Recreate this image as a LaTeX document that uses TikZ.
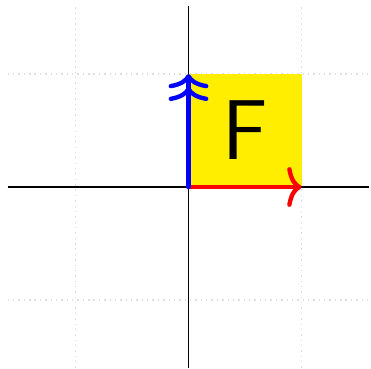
\documentclass[tikz,border=0pt]{standalone}
\usetikzlibrary{arrows.meta}
\definecolor{fyellow}{RGB}{255,238,0}
\definecolor{gridgray}{RGB}{222,222,222}
\begin{document}
\begin{tikzpicture}[x=1cm,y=1cm,
  gridline/.style={gridgray, densely dotted, line width=0.35pt},
  axisline/.style={black, line width=0.3pt},
  vecarrow/.style={line width=1.1pt, line cap=round},
  letter/.style={font=\sffamily\fontsize{21.4}{24}\selectfont, inner sep=0pt}]
\useasboundingbox (-1.668,-1.602) rectangle (1.615,1.655);
\draw[gridline] (-1.6,-1.6) grid (1.6,1.6);
\fill[fyellow] (0,0) rectangle (1,1);
\coordinate (O) at (0,0);
\coordinate (X) at (1,0);
\coordinate (Y) at (0,1);
\coordinate (xl) at (-1.6,0);
\coordinate (xr) at (1.6,0);
\coordinate (yb) at (0,-1.6);
\coordinate (yt) at (0,1.6);
\draw[axisline] (xl) -- (xr);
\draw[axisline] (yb) -- (yt);
\node[letter] (F) at (0.5,0.5) {F};
\draw[vecarrow, red, -{To[length=3.6pt,width=10pt]}] (O) -- (X);
\draw[vecarrow, blue, -{To[length=3.6pt,width=10pt,sep=-0.4pt]To[length=3.6pt,width=10pt]}] (O) -- (Y);
\end{tikzpicture}
\end{document}
